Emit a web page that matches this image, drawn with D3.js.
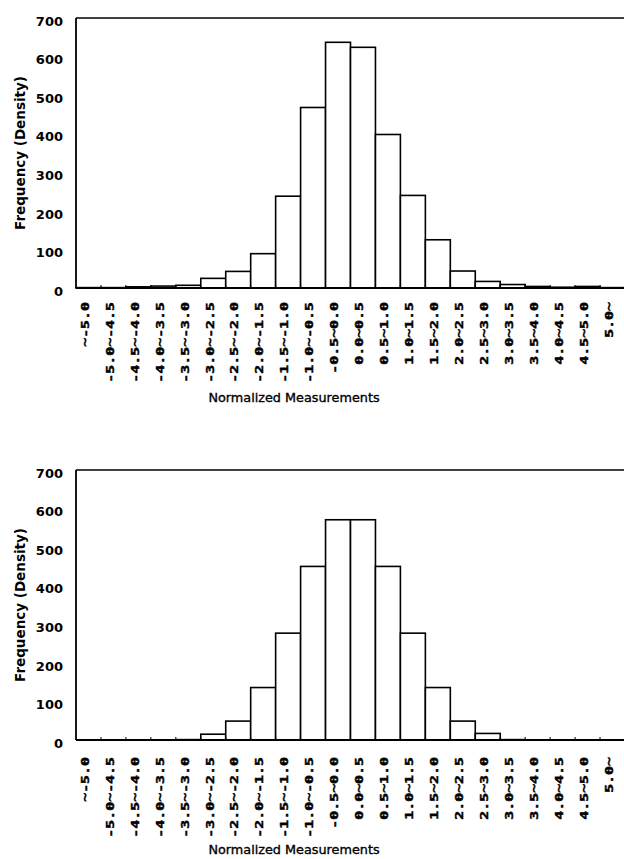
<!DOCTYPE html>
<html>
<head>
<meta charset="utf-8">
<script src="https://cdn.jsdelivr.net/npm/d3@7"></script>
<style>
  html, body { margin: 0; padding: 0; background: #fff; }
  svg { display: block; }
</style>
</head>
<body>
<div id="chart"></div>
<script>
// bins of the normalized measurement
const categories = [
  "~-5.0", "-5.0~-4.5", "-4.5~-4.0", "-4.0~-3.5", "-3.5~-3.0", "-3.0~-2.5",
  "-2.5~-2.0", "-2.0~-1.5", "-1.5~-1.0", "-1.0~-0.5", "-0.5~0.0", "0.0~0.5",
  "0.5~1.0", "1.0~1.5", "1.5~2.0", "2.0~2.5", "2.5~3.0", "3.0~3.5",
  "3.5~4.0", "4.0~4.5", "4.5~5.0", "5.0~"
];

// top panel: measured frequencies
const valuesTop = [1, 1, 3, 5, 7, 25, 43, 89, 238, 468, 637, 624, 398, 240, 125, 44, 17, 9, 4, 2, 4, 1];

// bottom panel: fitted (normal) frequencies
const valuesBottom = [0, 0, 0, 0, 1, 15, 49, 136, 277, 450, 571, 571, 450, 277, 136, 49, 17, 1, 0, 0, 0, 0];

const yTicks = [0, 100, 200, 300, 400, 500, 600, 700];

const W = 624, H = 859;
const svg = d3.select("#chart").append("svg")
  .attr("width", W)
  .attr("height", H);

function drawPanel(values, top, labelGap) {
  const left = 76, right = 625;
  const bottom = top + 270;

  const x = d3.scaleBand().domain(categories).range([left, right]).padding(0);
  const y = d3.scaleLinear().domain([0, 700]).range([bottom, top]);

  const g = svg.append("g");

  // bars
  g.selectAll("rect.bar")
    .data(values)
    .enter()
    .append("rect")
    .attr("class", "bar")
    .attr("x", (d, i) => x(categories[i]))
    .attr("y", d => y(d))
    .attr("width", x.bandwidth())
    .attr("height", d => y(0) - y(d))
    .attr("fill", "#fff")
    .attr("stroke", "#000")
    .attr("stroke-width", 1.6);

  // small inward ticks at bin edges
  g.selectAll("line.tick")
    .data(categories.slice(1))
    .enter()
    .append("line")
    .attr("x1", d => x(d))
    .attr("x2", d => x(d))
    .attr("y1", y(0))
    .attr("y2", y(0) - 3)
    .attr("stroke", "#000")
    .attr("stroke-width", 1);

  // frame: left, top and baseline
  g.append("line")
    .attr("x1", left).attr("x2", W).attr("y1", y(700)).attr("y2", y(700))
    .attr("stroke", "#000").attr("stroke-width", 1.4);
  g.append("line")
    .attr("x1", left).attr("x2", W).attr("y1", y(0)).attr("y2", y(0))
    .attr("stroke", "#000").attr("stroke-width", 1.8);
  g.append("line")
    .attr("x1", left).attr("x2", left).attr("y1", y(700)).attr("y2", y(0))
    .attr("stroke", "#000").attr("stroke-width", 1.8);

  // y axis labels
  const yAxis = d3.axisLeft(y).tickValues(yTicks).tickSize(0).tickPadding(13);
  const ya = g.append("g").attr("transform", `translate(${left},0)`).call(yAxis);
  ya.select(".domain").remove();
  ya.selectAll("text")
    .attr("dy", "0.55em")
    .style("font-family", "DejaVu Sans")
    .style("font-weight", "bold")
    .style("font-size", "13px")
    .attr("fill", "#000");

  // rotated bin labels
  g.selectAll("text.xlab")
    .data(categories)
    .enter()
    .append("text")
    .attr("class", "xlab")
    .attr("transform", d => `translate(${x(d) + x.bandwidth() / 2 - 3.5},${bottom + labelGap}) rotate(-90) scale(1.42,1)`)
    .attr("text-anchor", "end")
    .attr("dy", "0.36em")
    .attr("stroke", "#000")
    .attr("stroke-width", 0.45)
    .style("font-family", "DejaVu Sans Mono")
    .style("font-weight", "bold")
    .style("font-size", "10.5px")
    .text(d => d);

  // axis titles
  g.append("text")
    .attr("transform", `translate(25,${(top + bottom) / 2}) rotate(-90)`)
    .attr("text-anchor", "middle")
    .style("font-family", "DejaVu Sans")
    .style("font-weight", "bold")
    .style("font-size", "13.5px")
    .text("Frequency (Density)");

  g.append("text")
    .attr("x", 294)
    .attr("y", bottom + 114)
    .attr("text-anchor", "middle")
    .attr("stroke", "#000")
    .attr("stroke-width", 0.35)
    .style("font-family", "DejaVu Sans")
    .style("font-size", "12.8px")
    .text("Normalized Measurements");
}

drawPanel(valuesTop, 18, 14);
drawPanel(valuesBottom, 470, 17);
</script>
</body>
</html>
